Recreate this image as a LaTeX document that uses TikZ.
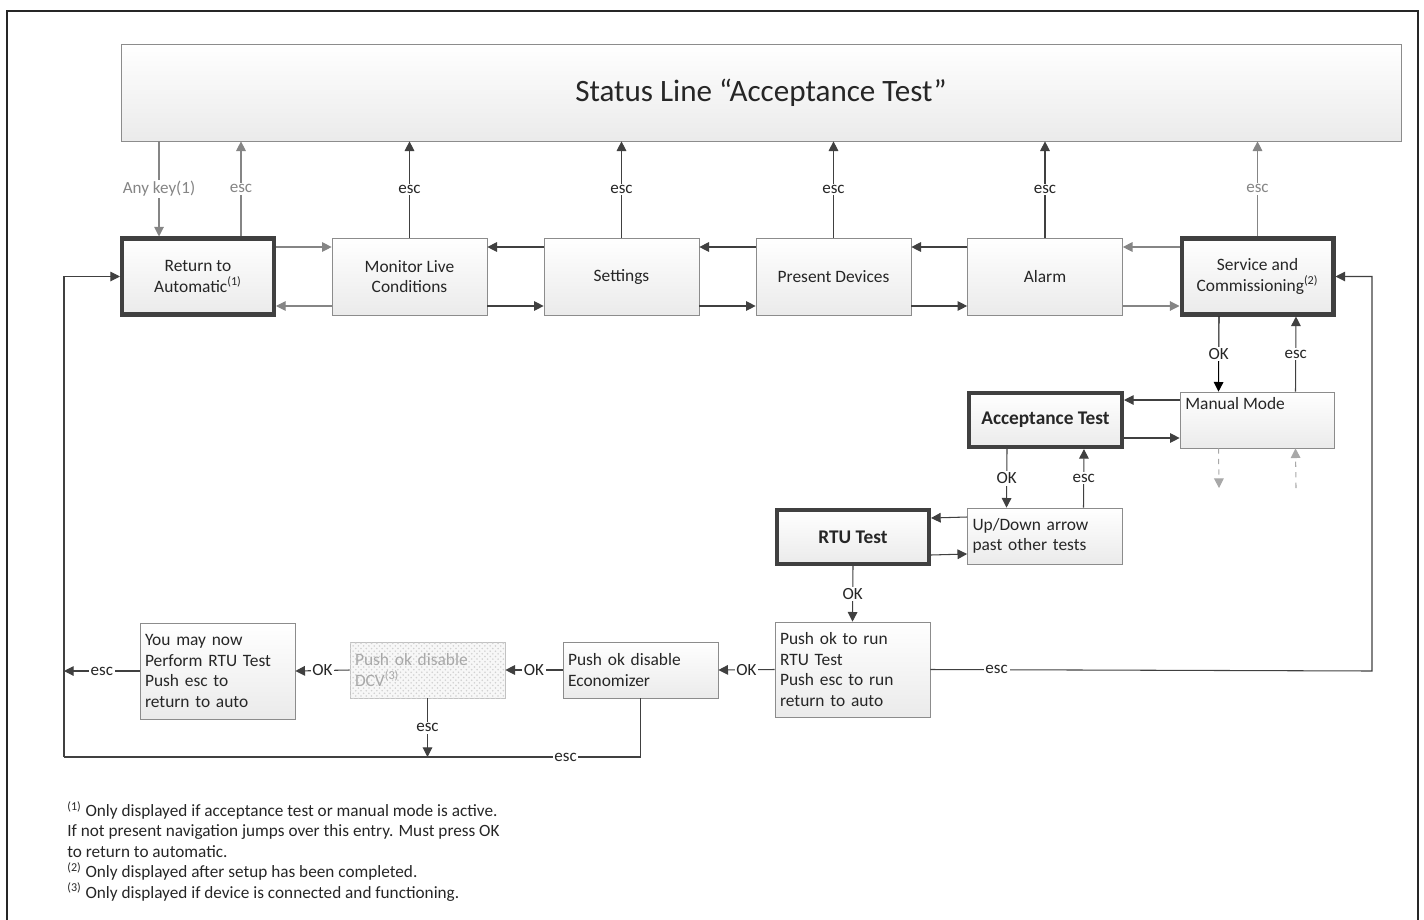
\documentclass[tikz,border=0pt]{standalone}
\usepackage{fontspec}
\setmainfont{Carlito}
\usetikzlibrary{arrows.meta,patterns}
\definecolor{DK}{HTML}{404040}
\definecolor{GY}{HTML}{858585}
\definecolor{BD}{HTML}{8C8C8C}
\definecolor{TX}{HTML}{262626}
\definecolor{LG}{HTML}{A8A8A8}
\tikzset{
    BX1/.style ={rectangle,draw=BD,top color=white,bottom color=black!8,minimum width=3.1cm,minimum height=1.54cm,align=center,text=TX,font=\fontsize{9.9}{11.7}\selectfont},
    BX2/.style ={BX1,draw=DK,line width=2.3pt,minimum width=3.04cm,minimum height=1.52cm},
    BX3/.style ={BX1,minimum height=1.12cm,text width=2.9cm,inner xsep=0.1cm,align=left},
    BX4/.style ={rectangle,draw=LG!70,fill=black!3,minimum width=3.1cm,minimum height=1.12cm,text width=2.9cm,inner xsep=0.1cm,align=left,text=LG,font=\fontsize{9.9}{11.7}\selectfont,
                 postaction={pattern=crosshatch dots,pattern color=black!18}},
    LB/.style ={fill=white,inner sep=1pt,text=TX,font=\fontsize{9.7}{11}\selectfont},
    DA/.style ={draw=DK,line width=0.6pt,-{Triangle[length=5.5pt,width=5.5pt]}},
    GA/.style ={DA,draw=GY},
    BA/.style ={DA,draw=black},
    LA/.style ={DA,draw=LG,dashed},
    FN/.style ={anchor=north west,align=left,inner sep=0pt,text=TX,font=\fontsize{9.8}{11.6}\selectfont}}
\begin{document}
\begin{tikzpicture}[x=0.02cm,y=-0.02cm]
        \useasboundingbox (0,0) rectangle (1424,920);
        \draw[line width=1.5pt,TX] (7,920) -- (7,11) -- (1418,11) -- (1418,920);
        % status line
        \node[BX1,minimum width=25.6cm,minimum height=1.94cm,font=\fontsize{17.7}{20}\selectfont] (stat) at(761,92.5){Status Line “Acceptance Test”};
        % menu row
        \node[BX2] (ret) at(198,276.5){Return to\\Automatic\textsuperscript{(1)}};
        \node[BX1] (mon) at(409.5,276.5){Monitor Live\\Conditions};
        \node[BX1] (set) at(621.5,276.5){Settings};
        \node[BX1] (pres) at(833.5,276.5){Present Devices};
        \node[BX1] (alm) at(1045,276.5){Alarm};
        \node[BX2] (srv) at(1257.5,276.5){Service and\\Commissioning\textsuperscript{(2)}};
        % service branch
        \node[BX1,minimum width=3.08cm,minimum height=1.12cm] (man) at(1257,420){};
        \node[anchor=north west,inner sep=3pt,text=TX,font=\fontsize{9.9}{11.7}\selectfont] (mant) at(man.north west){Manual Mode};
        \node[BX2,minimum width=3.06cm,minimum height=1.08cm,font=\fontsize{11}{13}\bfseries] (acc) at(1045.5,420){Acceptance Test};
        \node[BX3,minimum width=3.08cm] (upd) at(1045,536){Up/Down arrow\\past other tests};
        \node[BX2,minimum width=3.04cm,minimum height=1.08cm,font=\fontsize{11}{13}\bfseries] (rtu) at(853,537){RTU Test};
        % test sequence
        \node[BX3,minimum height=1.9cm] (push) at(852.5,669.5){Push ok to run\\RTU Test\\Push esc to run\\return to auto};
        \node[BX3] (eco) at(640.5,670){Push ok disable\\Economizer};
        \node[BX4] (dcv) at(427.5,670){Push ok disable\\DCV\textsuperscript{(3)}};
        \node[BX3,minimum width=3.06cm,minimum height=1.92cm] (you) at(217.5,671){You may now\\Perform RTU Test\\Push esc to\\return to auto};
        \coordinate (ak) at([xshift=-0.78cm]ret.north);
        \coordinate (re) at([xshift=0.86cm]ret.north);
        \coordinate (dl) at(1219,488);
        \coordinate (dr) at(1296,488);
        \coordinate (lm) at(64,671);
        \coordinate (blc) at(64,757);
        \coordinate (rc) at(1372,671);
        % to and from the status line
        \draw[GA] (ak |- stat.south) -- node[LB,text=GY]{Any key(1)} (ak);
        \draw[GA] (re) -- node[LB,text=GY]{esc} (re |- stat.south);
        \draw[DA] (mon.north) -- node[LB]{esc} (mon.north |- stat.south);
        \draw[DA] (set.north) -- node[LB]{esc} (set.north |- stat.south);
        \draw[DA] (pres.north) -- node[LB]{esc} (pres.north |- stat.south);
        \draw[DA] (alm.north) -- node[LB]{esc} (alm.north |- stat.south);
        \draw[GA] (srv.north) -- node[LB,text=GY]{esc} (srv.north |- stat.south);
        % along the row
        \draw[GA] ([yshift=0.59cm]ret.east) -- ([yshift=0.59cm]mon.west);
        \draw[GA] ([yshift=-0.59cm]mon.west) -- ([yshift=-0.59cm]ret.east);
        \draw[DA] ([yshift=0.59cm]set.west) -- ([yshift=0.59cm]mon.east);
        \draw[DA] ([yshift=-0.59cm]mon.east) -- ([yshift=-0.59cm]set.west);
        \draw[DA] ([yshift=0.59cm]pres.west) -- ([yshift=0.59cm]set.east);
        \draw[DA] ([yshift=-0.59cm]set.east) -- ([yshift=-0.59cm]pres.west);
        \draw[DA] ([yshift=0.59cm]alm.west) -- ([yshift=0.59cm]pres.east);
        \draw[DA] ([yshift=-0.59cm]pres.east) -- ([yshift=-0.59cm]alm.west);
        \draw[GA] ([yshift=0.59cm]srv.west) -- ([yshift=0.59cm]alm.east);
        \draw[GA] ([yshift=-0.59cm]alm.east) -- ([yshift=-0.59cm]srv.west);
        % service and tests
        \draw[BA] ([xshift=-0.77cm]srv.south) -- node[LB]{OK} ([xshift=-0.77cm]man.north);
        \draw[DA] ([xshift=0.77cm]man.north) -- node[LB]{esc} ([xshift=0.77cm]srv.south);
        \draw[LA] ([xshift=-0.77cm]man.south) -- (dl);
        \draw[LA] (dr) -- ([xshift=0.77cm]man.south);
        \draw[DA] ([yshift=0.4cm]man.west) -- ([yshift=0.4cm]acc.east);
        \draw[DA] ([yshift=-0.36cm]acc.east) -- ([yshift=-0.36cm]man.west);
        \draw[DA] ([xshift=-0.77cm]acc.south) -- node[LB]{OK} ([xshift=-0.77cm]upd.north);
        \draw[DA] ([xshift=0.77cm]upd.north) -- node[LB]{esc} ([xshift=0.77cm]acc.south);
        \draw[DA] ([yshift=0.38cm]upd.west) -- ([yshift=0.38cm]rtu.east);
        \draw[DA] ([yshift=-0.36cm]rtu.east) -- ([yshift=-0.36cm]upd.west);
        \draw[DA] (rtu.south) -- node[LB]{OK} (push.north);
        % bottom row
        \draw[DA] (push.west) -- node[LB]{OK} (eco.east);
        \draw[DA] (eco.west) -- node[LB]{OK} (dcv.east);
        \draw[DA] (dcv.west) -- node[LB]{OK} (you.east);
        \draw[DA] (you.west) -- node[LB]{esc} (lm);
        \draw[DA] (blc) |- (ret.west);
        \draw[DA] (dcv.south) -- node[LB]{esc} (dcv.south |- blc);
        \draw[DK,line width=0.6pt] (eco.south) |- node[LB,pos=0.565]{esc} (blc);
        \draw[DA] (push.east) -- node[LB,pos=0.15]{esc} (rc) |- (srv.east);
        % notes
        \node[FN] (fn) at(67,801){\textsuperscript{(1)} Only displayed if acceptance test or manual mode is active.\\
            If not present navigation jumps over this entry. Must press OK\\
            to return to automatic.\\
            \textsuperscript{(2)} Only displayed after setup has been completed.\\
            \textsuperscript{(3)} Only displayed if device is connected and functioning.};
    \end{tikzpicture}
\end{document}
